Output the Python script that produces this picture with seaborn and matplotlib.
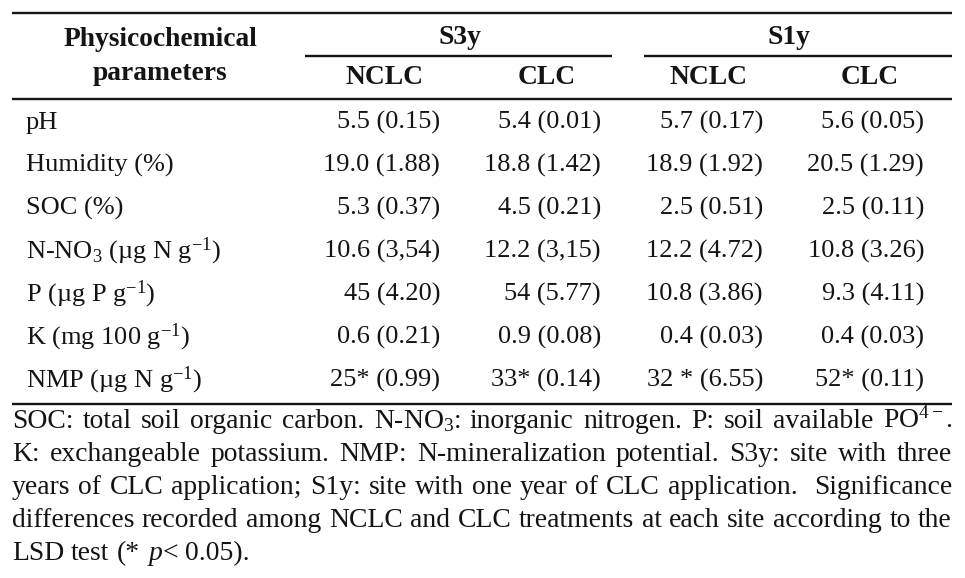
import matplotlib
matplotlib.use('Agg')
import matplotlib.pyplot as plt
import seaborn as sns
import pandas as pd

params = ['pH', 'Humidity (%)', 'SOC (%)', 'N-NO$_3$ (µg N g$^{-1}$)',
          'P (µg P g$^{-1}$)', 'K (mg 100 g$^{-1}$)', 'NMP (µg N g$^{-1}$)']
s3y_nclc = ['5.5 (0.15)', '19.0 (1.88)', '5.3 (0.37)', '10.6 (3,54)', '45 (4.20)', '0.6 (0.21)', '25* (0.99)']
s3y_clc = ['5.4 (0.01)', '18.8 (1.42)', '4.5 (0.21)', '12.2 (3,15)', '54 (5.77)', '0.9 (0.08)', '33* (0.14)']
s1y_nclc = ['5.7 (0.17)', '18.9 (1.92)', '2.5 (0.51)', '12.2 (4.72)', '10.8 (3.86)', '0.4 (0.03)', '32 * (6.55)']
s1y_clc = ['5.6 (0.05)', '20.5 (1.29)', '2.5 (0.11)', '10.8 (3.26)', '9.3 (4.11)', '0.4 (0.03)', '52* (0.11)']
sites = ['S3y', 'S1y']
treatments = ['NCLC', 'CLC']

notes = [
    'SOC: total soil organic carbon. N-NO$_3$: inorganic nitrogen. P: soil available PO$^{4-}$.',
    'K: exchangeable potassium. NMP: N-mineralization potential. S3y: site with three',
    'years of CLC application; S1y: site with one year of CLC application.  Significance',
    'differences recorded among NCLC and CLC treatments at each site according to the',
    'LSD test (* $p$< 0.05).',
]

df = pd.DataFrame({'param': params, 'S3y NCLC': s3y_nclc, 'S3y CLC': s3y_clc,
                   'S1y NCLC': s1y_nclc, 'S1y CLC': s1y_clc})

sns.set_theme(style='white')
plt.rcParams['font.family'] = ['Liberation Serif', 'DejaVu Serif']
plt.rcParams['mathtext.fontset'] = 'custom'
plt.rcParams['mathtext.rm'] = 'Liberation Serif'
plt.rcParams['mathtext.it'] = 'Liberation Serif:italic'
plt.rcParams['mathtext.bf'] = 'Liberation Serif:bold'

fig = plt.figure(figsize=(9.65, 5.78), dpi=100)
ax = fig.add_axes([0, 0, 1, 1])
ax.set_xlim(0, 965)
ax.set_ylim(578, 0)
ax.axis('off')

left, right = 12, 952
col_right = [440, 601, 763, 924]
col_center = [385, 547, 708, 870]
site_center = [460, 789]
site_span = [(305, 612), (644, 952)]
ink = '#141414'

# rules
ax.hlines([13, 99, 404], left, right, color=ink, lw=1.7)
for a, b in site_span:
    ax.hlines(56, a, b, color=ink, lw=1.7)

# header
hfs = 19.8
ax.text(160, 40, 'Physicochemical', ha='center', va='center', fontsize=hfs, fontweight='bold', color=ink)
ax.text(160, 73, 'parameters', ha='center', va='center', fontsize=hfs, fontweight='bold', color=ink)
for s, c in zip(sites, site_center):
    ax.text(c, 38, s, ha='center', va='center', fontsize=hfs, fontweight='bold', color=ink)
for i, c in enumerate(col_center):
    ax.text(c, 78, treatments[i % 2], ha='center', va='center', fontsize=hfs, fontweight='bold', color=ink)

# body
bfs = 19
cols = ['S3y NCLC', 'S3y CLC', 'S1y NCLC', 'S1y CLC']
for i, row in df.iterrows():
    yb = 129 + 43 * i
    ax.text(26, yb, row['param'], ha='left', va='baseline', fontsize=bfs, color=ink)
    for c, xr in zip(cols, col_right):
        ax.text(xr, yb, row[c], ha='right', va='baseline', fontsize=bfs, color=ink)

# footnote: pick the size that fills the justified lines, then place word by word
renderer = fig.canvas.get_renderer()
probe = 18
fits = []
for line in notes[:-1]:
    t = ax.text(0, 0, line, fontsize=probe)
    fits.append(probe * (right - left) / t.get_window_extent(renderer).width)
    t.remove()
nfs = min(fits) * 0.995

for k, line in enumerate(notes):
    yb = 428 + 33 * k
    words = line.split(' ')
    texts = [ax.text(0, yb, w, ha='left', va='baseline', fontsize=nfs, color=ink) for w in words]
    widths = [t.get_window_extent(renderer).width for t in texts]
    if k < len(notes) - 1:
        gap = (right - left - sum(widths)) / (len(words) - 1)
    else:
        gap = 0.25 * nfs * 100 / 72
    x = left
    for t, w in zip(texts, widths):
        t.set_x(x)
        x += w + gap

fig.savefig('out.png', dpi=100)
